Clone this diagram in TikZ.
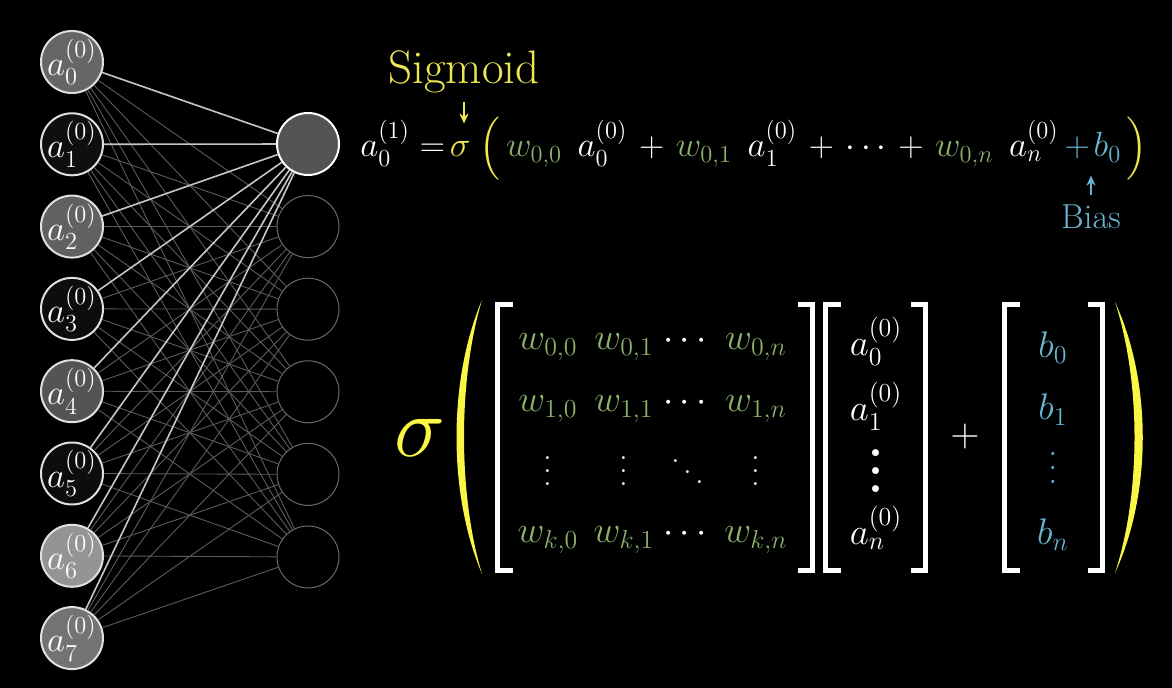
\RequirePackage{fix-cm}
\documentclass[tikz,border=0pt]{standalone}
\usepackage{amsmath,amssymb}
\usepackage{xcolor}
\usetikzlibrary{arrows.meta,positioning,calc}

\definecolor{wgreen}{RGB}{140,178,106}
\definecolor{bblue}{RGB}{102,182,210}
\definecolor{sigyel}{RGB}{236,232,84}
\definecolor{paryel}{RGB}{250,246,70}

\newcommand{\wgt}[1]{\textcolor{wgreen}{#1}}
\newcommand{\pls}{\mkern2mu+\mkern2mu}
\newcommand{\vdts}{\vbox{\baselineskip=.38em\lineskiplimit=0pt\hbox{.}\hbox{.}\hbox{.}}}
\newcommand{\ddts}{\mbox{\raisebox{.6em}{.}\hspace{.1em}\raisebox{.3em}{.}\hspace{.1em}.}}

\begin{document}
\begin{tikzpicture}[
  x=0.5pt, y=-0.5pt,
  >={Stealth[length=5pt,width=4.5pt]},
  neuron/.style={circle, draw=white!88!black, line width=1pt, minimum size=31pt, inner sep=0pt},
  nlab/.style={inner sep=0pt, text=white, font=\fontsize{17.5}{20}\selectfont},
  idle/.style={circle, draw=white!42!black, line width=.5pt, minimum size=31pt, inner sep=0pt},
  edge/.style={draw=white!36!black, line width=.45pt},
  hot/.style={draw=white!78!black, line width=.8pt},
  eq/.style={inner sep=0pt, text=white, font=\fontsize{17.5}{20}\selectfont},
  cell/.style={eq, anchor=base, font=\fontsize{18.5}{21}\selectfont},
  lbl/.style={inner sep=0pt, font=\fontsize{23.5}{26}\selectfont},
  brk/.style={draw=white, line width=2.6pt, line join=miter},
  point/.style={->, line width=1.1pt}
]
  \fill[black] (0,0) rectangle (1172,688);

  % network
  \foreach \i/\g in {0/40,1/6,2/38,3/5,4/33,5/5,6/58,7/45}{
    \node[neuron, fill=white!\g!black] (in\i) at (72,{62+82.3*\i}) {};
    \node[nlab] (lab\i) at (in\i) {$a_\i^{(0)}$};
  }
  \node[neuron, fill=white!33!black, draw=white] (out0) at (308,144) {};
  \foreach \j in {1,...,5}
    \node[idle] (out\j) at (308,{144+82.6*\j}) {};
  \foreach \i in {0,...,7}{
    \foreach \j in {1,...,5} \draw[edge] (in\i) -- (out\j);
    \draw[hot] (in\i) -- (out0);
  }

  % single neuron formula
  \node[eq, anchor=base west] (lhs) at (360,157) {$a_0^{(1)} =$};
  \node[eq, anchor=base west, text=sigyel, xshift=2pt] (sig) at (lhs.base east) {$\sigma$};
  \node[eq, anchor=base west, xshift=4pt] (body) at (sig.base east)
    {$\textcolor{sigyel}{\Bigl(}\,\wgt{w_{0,0}}\;\, a_0^{(0)} \pls \wgt{w_{0,1}}\;\, a_1^{(0)} \pls \cdots \pls \wgt{w_{0,n}}\;\, a_n^{(0)}$};
  \node[eq, anchor=base west, text=bblue, xshift=2.5pt] (bterm) at (body.base east) {$+\mkern2mu b_0$};
  \node[eq, anchor=base west, text=sigyel, xshift=2pt] (rpar) at (bterm.base east) {$\Bigr)$};

  \node[lbl, text=sigyel] (sigtxt) at (464,72) {Sigmoid};
  \node[lbl, text=bblue, font=\fontsize{17.3}{20}\selectfont] (biastxt) at (1091,217) {Bias};
  \draw[point, sigyel, shorten <=4pt, shorten >=9pt] (sigtxt.south) -- (sigtxt.south |- sig.north);
  \draw[point, bblue, shorten <=5pt, shorten >=6.5pt] (biastxt.north) -- (biastxt.north |- bterm.south);

  % matrix form
  \node[inner sep=0pt, text=paryel, font=\fontsize{43}{45}\selectfont] (bigsig) at (420,438) {$\sigma$};
  \fill[paryel] (482,300) .. controls (448,380) and (448,494) .. (482,574)
    .. controls (458,494) and (458,380) .. (482,300);
  \fill[paryel] (1115,302) .. controls (1152,382) and (1152,493) .. (1115,573)
    .. controls (1141,493) and (1141,382) .. (1115,302);
  \foreach \l/\r in {497.5/812.5, 825.5/925.5, 1004.5/1102.5}{
    \draw[brk] ({\l+15},304.5) -| (\l,570.5) -- ({\l+15},570.5);
    \draw[brk] ({\r-15},304.5) -| (\r,570.5) -- ({\r-15},570.5);
  }

  \foreach \r/\y in {0/350,1/412,k/543}{
    \foreach \c/\x in {0/548,1/624,n/756}
      \node[cell, text=wgreen] (w\r\c) at (\x,\y) {$w_{\r,\c}$};
    \node[cell] (wc\r) at (688,\y) {$\cdots$};
  }
  \foreach \c/\x in {0/548,1/624,n/756}
    \node[eq] (wv\c) at (\x,471) {\vdts};
  \node[eq] (wdd) at (688,472) {\ddts};

  \foreach \r/\y in {0/356,1/421,n/545}
    \node[cell] (a\r) at (876,\y) {$a_\r^{(0)}$};
  \node[eq, font=\fontsize{24}{26}\selectfont\bfseries] (av) at (876,471) {\vdts};

  \node[eq, font=\fontsize{20}{22}\selectfont] (plus) at (965,437) {$+$};

  \foreach \r/\y in {0/358,1/420,n/545}
    \node[cell, text=bblue] (b\r) at (1053,\y) {$b_\r$};
  \node[eq, text=bblue, font=\fontsize{19}{21}\selectfont] (bv) at (1053,468) {\vdts};
\end{tikzpicture}
\end{document}
